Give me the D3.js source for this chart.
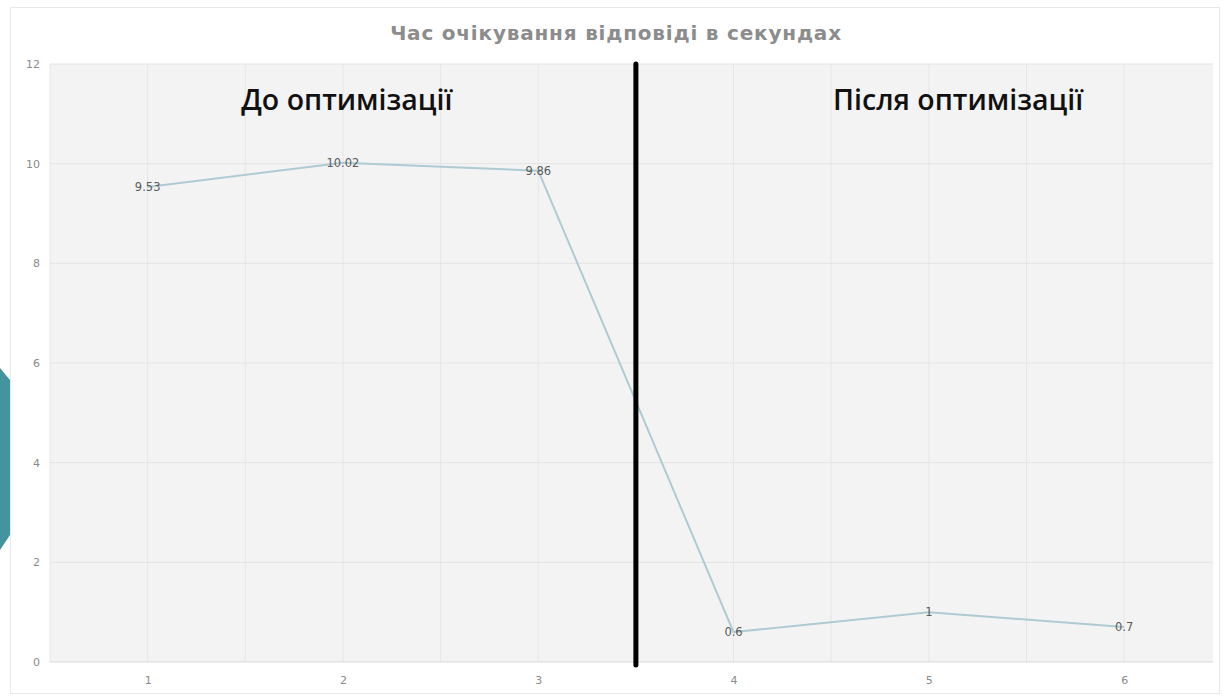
<!DOCTYPE html>
<html><head><meta charset="utf-8">
<script src="https://cdn.jsdelivr.net/npm/d3@7"></script>
<style>body{margin:0;background:#fff;}svg{display:block;}</style>
</head><body>
<svg id="c" width="1223" height="697"></svg>
<script>
const categories = [1, 2, 3, 4, 5, 6];
const values = [9.53, 10.02, 9.86, 0.6, 1, 0.7];
const valueLabels = ["9.53", "10.02", "9.86", "0.6", "1", "0.7"];
const yTicks = [0, 2, 4, 6, 8, 10, 12];
const xTickLabels = ["1", "2", "3", "4", "5", "6"];
const dividerAt = [3.5];
const sectionLabels = ["До оптимізації", "Після оптимізації"];
const sectionPos = [2.02, 5.15];
const sectionY = 11.28;
const title = "Час очікування відповіді в секундах";

const svg = d3.select("#c");
// slide decoration
svg.append("polygon").attr("points","0,368 10,380 10,535 0,550").attr("fill","#43949e");
svg.append("rect").attr("x",10.5).attr("y",7.5).attr("width",1209).attr("height",686)
  .attr("fill","#fff").attr("stroke","#e8e8e8");

const L = 50, R = 1213, T = 64, B = 662;
const x = d3.scaleLinear().domain([0.5, 6.455]).range([L, R]);
const y = d3.scaleLinear().domain([0, 12]).range([B, T]);

svg.append("rect").attr("x",L).attr("y",T).attr("width",R-L).attr("height",B-T).attr("fill","#f3f3f3");

const xg = d3.range(0.5, 6.5, 0.5);
svg.append("g").selectAll("line").data(xg).join("line")
  .attr("x1",d=>x(d)).attr("x2",d=>x(d)).attr("y1",T).attr("y2",B)
  .attr("stroke","#e6e6e6").attr("stroke-width",1);
svg.append("g").selectAll("line").data(yTicks).join("line")
  .attr("x1",L).attr("x2",R).attr("y1",d=>y(d)).attr("y2",d=>y(d))
  .attr("stroke",d=>d===0?"#d9d9d9":"#e4e4e4").attr("stroke-width",1);

// axes
const yAxis = d3.axisLeft(y).tickValues(yTicks).tickSize(0).tickPadding(10);
const ya = svg.append("g").attr("transform",`translate(${L},0)`).call(yAxis);
ya.select(".domain").remove();
ya.selectAll("text").attr("fill","#8a8a8a").style("font","11px 'DejaVu Sans', sans-serif");

const xAxis = d3.axisBottom(x).tickValues(categories).tickFormat((d,i)=>xTickLabels[i]).tickSize(0).tickPadding(14);
const xa = svg.append("g").attr("transform",`translate(0,${B})`).call(xAxis);
xa.select(".domain").remove();
xa.selectAll("text").attr("fill","#8a8a8a").style("font","11px 'DejaVu Sans', sans-serif");

// line
const line = d3.line().x((d,i)=>x(categories[i])).y(d=>y(d));
svg.append("path").datum(values).attr("d",line).attr("fill","none")
  .attr("stroke","#aecbd3").attr("stroke-width",2);

// divider
svg.selectAll(".div").data(dividerAt).join("line").attr("class","div")
  .attr("x1",d=>x(d)).attr("x2",d=>x(d)).attr("y1",T).attr("y2",B+3)
  .attr("stroke","#000").attr("stroke-width",5).attr("stroke-linecap","round");

// value labels
svg.append("g").selectAll("text").data(values).join("text")
  .attr("x",(d,i)=>x(categories[i])).attr("y",d=>y(d)).attr("dy","0.35em")
  .attr("text-anchor","middle").attr("fill","#5a5a5a")
  .style("font","11.5px 'DejaVu Sans', sans-serif").text((d,i)=>valueLabels[i]);

// section labels
svg.append("g").selectAll("text").data(sectionLabels).join("text")
  .attr("x",(d,i)=>x(sectionPos[i])).attr("y",y(sectionY)).attr("dy","0.35em")
  .attr("text-anchor","middle").attr("fill","#111")
  .style("font","600 28.5px 'Open Sans', sans-serif").text(d=>d);

svg.append("text").attr("x",616).attr("y",33).attr("dy","0.35em").attr("text-anchor","middle")
  .attr("fill","#8c8c8c").style("font","bold 20px 'DejaVu Sans', sans-serif")
  .style("letter-spacing","0.8px").text(title);
</script>
</body></html>
